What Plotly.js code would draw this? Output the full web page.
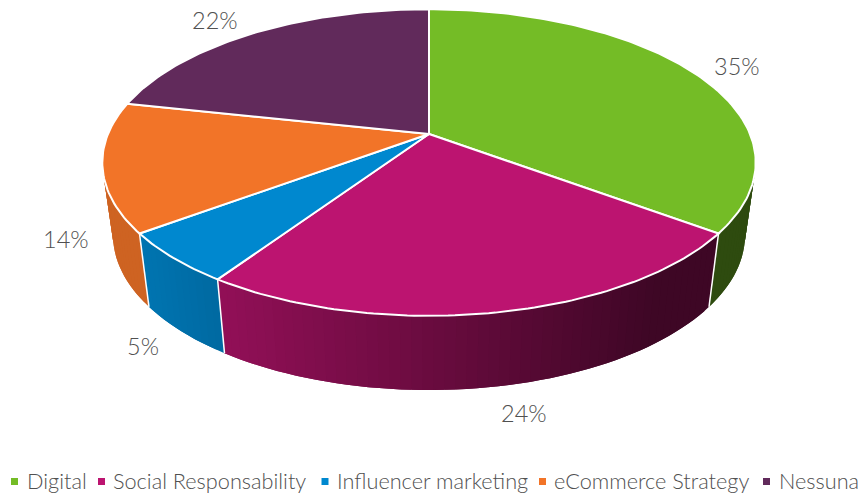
<!DOCTYPE html>
<html><head><meta charset="utf-8">
<script src="https://cdn.plot.ly/plotly-3.0.1.min.js"></script>
<style>html,body{margin:0;padding:0;background:#fff}#c{width:863px;height:494px}</style>
</head><body><div id="c"></div>
<script>
// data
const categories = ["Digital","Social Responsability","Influencer marketing","eCommerce Strategy","Nessuna"];
const values = [35.2,24.2,5.4,13.6,21.6];
const colors = [[116,188,38],[188,20,112],[0,136,207],[242,116,40],[97,42,91]];

// geometry of the tilted pie (in axis units = pixels)
const CX=429, AY=134, A=321, B=148, K=0.186;
const TOP={cy:162.5,rx:326.7,ry:153.3}, BOT={cy:235,rx:316,ry:155};
const labelPos=[[737,66],[524,413],[143,346],[66,239],[215,20]];
const legendMarkX=[14.5,101.5,325,542.5,766.5], legendTextX=[27,113,337,554,779], LEGY=481.5;
const FONT='"Lato Light", Lato, "Open Sans", sans-serif', GREY='#505050';

const total=values.reduce((a,b)=>a+b,0);
function rim(f){const t=2*Math.PI*f,u=Math.sin(t),v=Math.cos(t),d=1+K*v;return [CX+A*u/d,AY-B*v/d];}
function bottomOf(p){const s=(p[0]-CX)/TOP.rx,c=(TOP.cy-p[1])/TOP.ry;return [CX+BOT.rx*s,BOT.cy-BOT.ry*c];}
function shade(x,i){
  let m;
  if(x<147)m=.85; else if(x<650)m=.85-(x-147)*(.52/503); else m=.33;
  if(i===0)m=.4;
  return 'rgb('+colors[i].map(c=>Math.round(c*m)).join(',')+')';
}
const traces=[];
const blank={hoverinfo:'skip',showlegend:false};
let cum=0; const bounds=values.map(v=>{const s=cum/total;cum+=v;return [s,cum/total];});

// side walls: each strip runs under the next one so no seam shows
bounds.forEach((b,i)=>{
  const N=Math.max(6,Math.round((b[1]-b[0])*220));
  for(let j=0;j<N;j++){
    const f0=b[0]+(b[1]-b[0])*j/N,f1=b[0]+(b[1]-b[0])*Math.min(j+2,N)/N;
    const p0=rim(f0),p1=rim(f1);
    if(p0[1]<150&&p1[1]<150)continue;
    const pm=rim((f0+f1)/2),q0=bottomOf(p0),q1=bottomOf(p1),qm=bottomOf(pm);
    const col=shade((p0[0]+p1[0]+q0[0]+q1[0])/4,i);
    traces.push(Object.assign({type:'scatter',mode:'none',x:[p0[0],pm[0],p1[0],q1[0],qm[0],q0[0],p0[0]],y:[p0[1],pm[1],p1[1],q1[1],qm[1],q0[1],p0[1]],
      fill:'toself',fillcolor:col},blank));
  }
});
// white seams on the wall
bounds.forEach(b=>{
  const p=rim(b[0]);
  if(p[1]<155)return;
  const q=bottomOf(p);
  traces.push(Object.assign({type:'scatter',mode:'lines',x:[p[0],q[0]],y:[p[1],q[1]],line:{color:'#fff',width:1.5}},blank));
});
// top slices
bounds.forEach((b,i)=>{
  const xs=[CX],ys=[AY];
  const N=Math.ceil((b[1]-b[0])*360);
  for(let j=0;j<=N;j++){const p=rim(b[0]+(b[1]-b[0])*j/N);xs.push(p[0]);ys.push(p[1]);}
  xs.push(CX);ys.push(AY);
  traces.push({type:'scatter',mode:'lines',x:xs,y:ys,fill:'toself',name:categories[i],
    fillcolor:'rgb('+colors[i].join(',')+')',line:{color:'#fff',width:2},hoverinfo:'name',showlegend:false});
});
// legend squares
categories.forEach((c,i)=>{
  traces.push(Object.assign({type:'scatter',mode:'markers',x:[legendMarkX[i]],y:[LEGY],
    marker:{symbol:'square',size:7,color:'rgb('+colors[i].join(',')+')'}},blank));
});
const annotations=[];
values.forEach((v,i)=>annotations.push({x:labelPos[i][0],y:labelPos[i][1],xref:'x',yref:'y',showarrow:false,
  text:Math.round(v)+'%',xanchor:'center',yanchor:'middle',font:{family:FONT,size:23.5,color:GREY,weight:300}}));
categories.forEach((c,i)=>annotations.push({x:legendTextX[i],y:LEGY-1,xref:'x',yref:'y',showarrow:false,
  text:c,xanchor:'left',yanchor:'middle',xshift:-2,font:{family:FONT,size:21.7,color:GREY,weight:300}}));

Plotly.newPlot('c',traces,{
  width:863,height:494,margin:{l:0,r:0,t:0,b:0},paper_bgcolor:'#fff',plot_bgcolor:'#fff',showlegend:false,
  xaxis:{range:[0,863],visible:false,fixedrange:true},
  yaxis:{range:[494,0],visible:false,fixedrange:true},
  annotations:annotations
},{displayModeBar:false,staticPlot:true});
</script></body></html>
